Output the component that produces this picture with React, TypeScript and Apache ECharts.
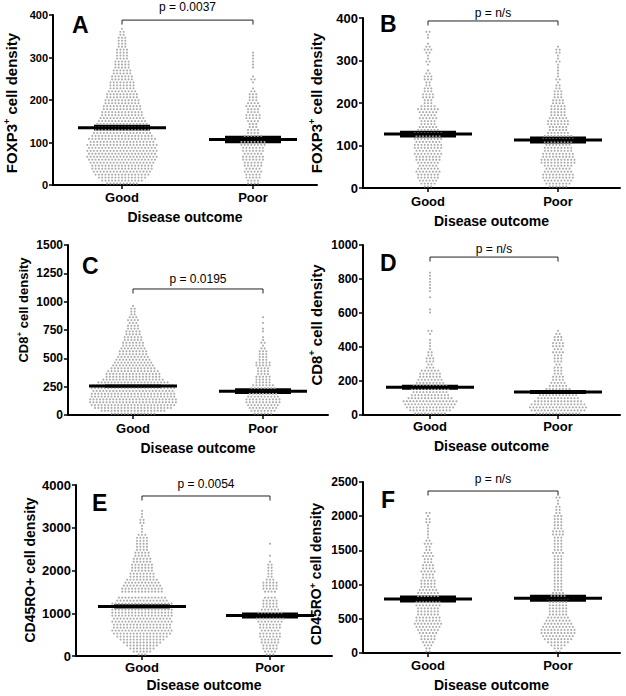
import React, { useEffect, useRef } from 'react';
import * as echarts from 'echarts';

// ---------- data ----------
const categories = ['Good', 'Poor'];
const panelLetters = ['A', 'B', 'C', 'D', 'E', 'F'];
const pLabels = ['p = 0.0037', 'p = n/s', 'p = 0.0195', 'p = n/s', 'p = 0.0054', 'p = n/s'];
const xAxisTitle = 'Disease outcome';
const yAxisTitles = [
  ['FOXP3', '+', ' cell density'],
  ['FOXP3', '+', ' cell density'],
  ['CD8', '+', ' cell density'],
  ['CD8', '+', ' cell density'],
  ['CD45RO+', '', ' cell density'],
  ['CD45RO', '+', ' cell density'],
];
const yMax = [400, 400, 1500, 1000, 4000, 2500];
const yInterval = [100, 100, 250, 200, 1000, 500];
const meanGood = [135, 127, 255, 163, 1160, 790];
const meanPoor = [107, 113, 210, 135, 950, 800];
const semGood = [7, 8, 15, 15, 50, 50];
const semPoor = [9, 8, 25, 12, 70, 50];
const bracketLevel = [388, 393, 1112, 929, 3743, 2368];

// Swarm rows: value width of one row of dots, and the dot count in each row (from 0 upward)
const rowStep = [7, 7, 25, 18, 70, 45];
const foxp3GoodA = [10,13,15,17,18,19,19,20,21,22,21,22,21,22,20,21,19,18,17,17,16,15,14,13,13,12,12,11,11,10,10,9,8,8,8,7,7,6,6,5,5,5,4,4,4,4,3,3,3,3,2,2,1];
const foxp3PoorA = [4,4,5,5,6,5,6,6,7,7,6,7,7,8,8,7,6,4,4,3,3,4,5,5,4,4,5,4,3,3,3,2,1,0,1,2,1,0,0,1,1,1,1,1,1];
const foxp3GoodB = [3,5,6,7,7,8,7,6,7,8,8,9,8,9,9,8,9,8,9,7,6,5,5,6,5,6,7,5,3,3,4,4,3,3,2,2,3,3,2,1,0,1,2,1,1,2,3,2,1,0,1,1,2];
const foxp3PoorB = [6,8,9,10,10,9,8,9,11,11,10,10,9,9,8,9,10,9,7,6,6,7,7,6,5,5,5,5,4,4,3,3,3,2,2,1,2,1,1,1,1,1,2,1,1,2,2,1];
const cd8GoodC = [14,20,24,26,27,27,26,26,25,26,25,22,19,17,17,16,14,13,12,11,10,9,9,8,7,7,6,6,5,5,4,4,3,4,3,2,2,2,1];
const cd8PoorC = [6,8,9,10,11,11,10,9,9,8,7,5,5,5,4,4,4,5,5,3,3,3,3,2,1,2,1,1,0,1,1,0,1,0,1];
const cd8GoodD = [10,13,15,16,17,14,12,11,12,11,9,8,7,7,6,3,2,3,3,2,2,1,1,1,1,0,1,2,0,0,0,0,0,1,1,0,0,0,1,0,1,1,1,1,1,1,1];
const cd8PoorD = [14,17,18,17,15,13,12,11,8,6,5,4,4,3,3,3,2,3,3,3,4,3,4,4,3,3,2,1];
const cd45GoodE = [3,6,8,10,12,14,16,18,19,18,18,19,18,19,19,19,20,19,16,15,14,13,13,12,11,10,8,8,7,7,7,6,6,5,5,4,4,4,4,4,3,1,1,1,2,2,1,1,1];
const cd45PoorE = [3,4,5,5,6,6,7,7,6,7,7,8,9,10,8,6,5,5,5,4,4,4,5,5,5,3,2,2,2,2,2,1,0,1,0,0,0,1];
const cd45GoodF = [2,2,3,4,5,5,6,7,8,9,8,8,7,7,7,8,8,8,7,7,6,5,5,5,4,4,5,4,4,3,3,4,3,2,2,3,2,1,1,1,1,1,2,2,1,2];
const cd45PoorF = [2,3,5,7,9,10,11,11,10,9,8,7,6,6,6,6,6,7,5,4,3,3,3,3,3,3,3,3,3,3,3,3,4,3,3,3,3,3,4,4,3,3,3,3,3,2,2,2,1,1,2];

const swarmRows = [
  [foxp3GoodA, foxp3PoorA],
  [foxp3GoodB, foxp3PoorB],
  [cd8GoodC, cd8PoorC],
  [cd8GoodD, cd8PoorD],
  [cd45GoodE, cd45PoorE],
  [cd45GoodF, cd45PoorF],
];

// ---------- layout / style ----------
const FONT = '"Liberation Sans", Arial, Helvetica, sans-serif';
const DOT_DX = 3.3;
const layout = [
  { left: 53, top: 15, width: 264, height: 170, good: 122, poor: 253, letter: [72, 25], yName: [11, 103], yNameSize: 15, tickSize: 11, pGap: 13, nameGap: 25, labelMargin: 6 },
  { left: 363, top: 18, width: 257, height: 170, good: 428, poor: 558, letter: [380, 24], yName: [316, 103], yNameSize: 15, tickSize: 13, pGap: 8, nameGap: 26, labelMargin: 7 },
  { left: 68, top: 245, width: 260, height: 170, good: 133, poor: 263, letter: [82, 266], yName: [23, 310], yNameSize: 13, tickSize: 12, pGap: 10, nameGap: 26, labelMargin: 7 },
  { left: 363, top: 245, width: 257, height: 170, good: 430, poor: 558, letter: [380, 263], yName: [316, 325], yNameSize: 15, tickSize: 12, pGap: 8, nameGap: 24, labelMargin: 5 },
  { left: 76, top: 485, width: 256, height: 171, good: 142, poor: 270, letter: [92, 503], yName: [30, 570], yNameSize: 14, tickSize: 13, pGap: 12, nameGap: 22, labelMargin: 5 },
  { left: 363, top: 482, width: 257, height: 171, good: 428, poor: 558, letter: [381, 500], yName: [316, 574], yNameSize: 14, tickSize: 12, pGap: 12, nameGap: 25, labelMargin: 6 },
];

function swarmData(panel: number) {
  const out: number[][] = [];
  [0, 1].forEach((g) => {
    swarmRows[panel][g].forEach((n, i) => {
      const v = (i + 0.5) * rowStep[panel];
      for (let k = 0; k < n; k++) out.push([g, v, (k - (n - 1) / 2) * DOT_DX]);
    });
  });
  return out;
}

function buildOption() {
  const grid: any[] = [];
  const xAxis: any[] = [];
  const yAxis: any[] = [];
  const series: any[] = [];
  const graphic: any[] = [];

  layout.forEach((L, i) => {
    const span = L.poor - L.good;
    const xmin = -(L.good - L.left) / span;
    const xmax = xmin + L.width / span;
    grid.push({ left: L.left, top: L.top, width: L.width, height: L.height, containLabel: false });
    xAxis.push({
      type: 'value', gridIndex: i, min: xmin, max: xmax,
      axisLine: { show: true, onZero: false, lineStyle: { color: '#000', width: 2 } },
      axisTick: { show: true, customValues: [0, 1], length: 4, lineStyle: { color: '#000', width: 1.5 } },
      axisLabel: {
        customValues: [0, 1], formatter: (v: number) => categories[Math.round(v)] ?? '',
        fontWeight: 'bold', fontSize: 13, color: '#000', margin: L.labelMargin, fontFamily: FONT,
      },
      splitLine: { show: false },
      name: xAxisTitle, nameLocation: 'middle', nameGap: L.nameGap,
      nameTextStyle: { fontWeight: 'bold', fontSize: 14, color: '#000', fontFamily: FONT },
    });
    yAxis.push({
      type: 'value', gridIndex: i, min: 0, max: yMax[i], interval: yInterval[i],
      axisLine: { show: true, onZero: false, lineStyle: { color: '#000', width: 2 } },
      axisTick: { show: true, length: 4, lineStyle: { color: '#000', width: 1.5 } },
      axisLabel: {
        fontWeight: 'bold', fontSize: L.tickSize, color: '#000', margin: 5, fontFamily: FONT,
        formatter: (v: number) => String(v),
      },
      splitLine: { show: false },
    });

    // SEM blocks
    series.push({
      type: 'custom', xAxisIndex: i, yAxisIndex: i, silent: true, z: 2,
      encode: { x: 0, y: 1 },
      data: [[0, meanGood[i], semGood[i]], [1, meanPoor[i], semPoor[i]]],
      renderItem: (_p: any, api: any) => {
        const hi = api.coord([api.value(0), api.value(1) + api.value(2)]);
        const lo = api.coord([api.value(0), api.value(1) - api.value(2)]);
        return {
          type: 'rect',
          shape: { x: hi[0] - 28, y: hi[1], width: 56, height: Math.max(lo[1] - hi[1], 2) },
          style: { fill: '#000' },
        };
      },
    });
    // dots
    series.push({
      type: 'custom', xAxisIndex: i, yAxisIndex: i, silent: true, z: 3,
      encode: { x: 0, y: 1 },
      data: swarmData(i),
      renderItem: (_p: any, api: any) => {
        const c = api.coord([api.value(0), api.value(1)]);
        return { type: 'circle', shape: { cx: c[0] + api.value(2), cy: c[1], r: 1.05 }, style: { fill: '#ababab' } };
      },
    });
    // mean lines
    series.push({
      type: 'custom', xAxisIndex: i, yAxisIndex: i, silent: true, z: 4,
      encode: { x: 0, y: 1 },
      data: [[0, meanGood[i]], [1, meanPoor[i]]],
      renderItem: (_p: any, api: any) => {
        const c = api.coord([api.value(0), api.value(1)]);
        return {
          type: 'line',
          shape: { x1: c[0] - 44, y1: c[1], x2: c[0] + 44, y2: c[1] },
          style: { stroke: '#000', lineWidth: 3 },
        };
      },
    });
    // bracket + p value
    const pText = pLabels[i];
    const gap = L.pGap;
    series.push({
      type: 'custom', xAxisIndex: i, yAxisIndex: i, silent: true, z: 5,
      encode: { x: 0, y: 2 },
      data: [[0, 1, bracketLevel[i]]],
      renderItem: (_p: any, api: any) => {
        const a = api.coord([api.value(0), api.value(2)]);
        const b = api.coord([api.value(1), api.value(2)]);
        return {
          type: 'group',
          children: [
            {
              type: 'polyline',
              shape: { points: [[a[0], a[1] + 4.5], [a[0], a[1]], [b[0], b[1]], [b[0], b[1] + 4.5]] },
              style: { stroke: '#222', fill: 'none', lineWidth: 1 },
            },
            {
              type: 'text', x: (a[0] + b[0]) / 2, y: a[1] - gap,
              style: { text: pText, align: 'center', verticalAlign: 'middle', fontSize: 12, fontFamily: FONT, fill: '#000' },
            },
          ],
        };
      },
    });

    // panel letter
    graphic.push({
      type: 'text', x: L.letter[0], y: L.letter[1], silent: true,
      style: { text: panelLetters[i], fontSize: 23, fontWeight: 'bold', fontFamily: FONT, fill: '#000', verticalAlign: 'middle' },
    });
    // y axis title
    const [base, sup, rest] = yAxisTitles[i];
    const s = L.yNameSize;
    graphic.push({
      type: 'text', x: L.yName[0], y: L.yName[1], rotation: Math.PI / 2, silent: true,
      style: {
        text: sup ? `{n|${base}}{s|${sup}}{n|${rest}}` : `{n|${base}${rest}}`,
        align: 'center', verticalAlign: 'middle', fill: '#000',
        rich: {
          n: { fontSize: s, fontWeight: 'bold', fontFamily: FONT, lineHeight: s + 2, fill: '#000' },
          s: { fontSize: Math.round(s * 0.62), fontWeight: 'bold', fontFamily: FONT, lineHeight: Math.round(s * 0.62) + 1, verticalAlign: 'top', fill: '#000' },
        },
      },
    });
  });

  return {
    animation: false,
    backgroundColor: '#fff',
    textStyle: { fontFamily: FONT },
    grid, xAxis, yAxis, series, graphic,
  };
}

export default function App() {
  const ref = useRef<HTMLDivElement>(null);
  useEffect(() => {
    if (!ref.current) return;
    const chart = echarts.init(ref.current, undefined, { renderer: 'svg' });
    chart.setOption(buildOption() as any);
    return () => chart.dispose();
  }, []);
  return <div ref={ref} style={{ position: 'absolute', left: 0, top: 0, width: 626, height: 696, background: '#fff' }} />;
}
